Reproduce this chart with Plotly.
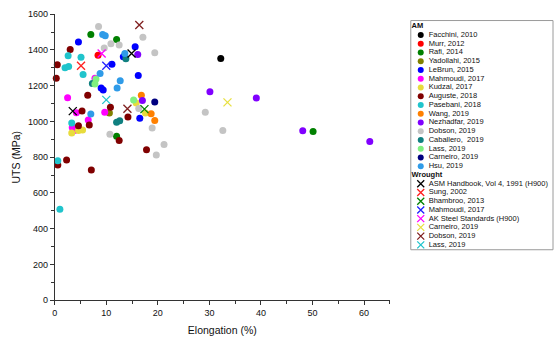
import plotly.graph_objects as go

# ---------------- data (Elongation %, UTS MPa) ----------------
am_names = ["Facchini, 2010", "Murr, 2012", "Rafi, 2014", "Yadollahi, 2015", "LeBrun, 2015",
            "Mahmoudi, 2017", "Kudzal, 2017", "Auguste, 2018", "Pasebani, 2018", "Wang, 2019",
            "Nezhadfar, 2019", "Dobson, 2019", "Caballero,  2019", "Lass, 2019", "Carneiro, 2019",
            "Hsu, 2019"]
am_colors = ["#000000", "#ff0000", "#008000", "#808000", "#0000ff", "#ff00ff", "#e8dc3c",
             "#800000", "#20c4cc", "#ff8000", "#8000ff", "#c4c4c4", "#108080", "#80f080",
             "#000080", "#2f9be8"]

facchini_e = [32.2];  facchini_u = [1353]
murr_e = [8.4];       murr_u = [1371]
rafi_e = [7.0, 12.0, 12.0, 50.1];  rafi_u = [1487, 1458, 917, 944]
yadollahi_e = [10.6]; yadollahi_u = [1047]
lebrun_e = [4.6, 15.6, 13.3, 11.1, 16.2, 9.0, 9.4, 16.5]
lebrun_u = [1444, 1418, 1362, 1320, 1257, 1188, 1176, 1018]
mahmoudi_e = [7.8, 2.5, 4.2, 9.7, 6.5, 3.4, 3.8]
mahmoudi_u = [1242, 1133, 1049, 1051, 1009, 966, 950]
kudzal_e = [15.8, 17.6, 3.3, 4.6, 5.4]
kudzal_u = [1103, 1047, 935, 949, 953]
auguste_e = [3.0, 0.5, 0.3, 6.4, 5.3, 10.8, 14.2, 4.6, 6.7, 12.5, 17.8, 2.3, 0.6, 7.1]
auguste_u = [1402, 1317, 1242, 1147, 1058, 1080, 1025, 976, 981, 893, 842, 784, 757, 728]
pasebani_e = [2.6, 5.1, 2.0, 2.7, 5.5, 3.3, 0.6, 1.0]
pasebani_u = [1368, 1359, 1301, 1308, 1263, 991, 781, 509]
wang_e = [16.8, 18.7, 19.4];  wang_u = [1147, 1043, 1005]
nezhadfar_e = [16.1, 17.0, 30.1, 39.1, 48.1, 61.1]
nezhadfar_u = [1375, 1118, 1167, 1132, 948, 888]
dobson_e = [8.5, 17.1, 10.9, 12.5, 9.6, 19.4, 16.3, 18.9, 10.7, 21.2, 19.7, 29.2, 32.6]
dobson_u = [1531, 1471, 1435, 1428, 1411, 1384, 1073, 964, 928, 871, 812, 1051, 949]
caballero_e = [13.8, 7.3, 12.0, 12.6];  caballero_u = [1351, 1212, 996, 1004]
lass_e = [8.0, 7.8, 15.3];  lass_u = [1237, 1210, 1120]
carneiro_e = [19.4];  carneiro_u = [1109]
hsu_e = [9.3, 9.8, 13.6, 8.8, 12.7, 12.1, 7.0]
hsu_u = [1487, 1480, 1380, 1268, 1228, 1188, 1042]

am_e = [facchini_e, murr_e, rafi_e, yadollahi_e, lebrun_e, mahmoudi_e, kudzal_e, auguste_e,
        pasebani_e, wang_e, nezhadfar_e, dobson_e, caballero_e, lass_e, carneiro_e, hsu_e]
am_u = [facchini_u, murr_u, rafi_u, yadollahi_u, lebrun_u, mahmoudi_u, kudzal_u, auguste_u,
        pasebani_u, wang_u, nezhadfar_u, dobson_u, caballero_u, lass_u, carneiro_u, hsu_u]

wr_names = ["ASM Handbook, Vol 4, 1991 (H900)", "Sung, 2002", "Bhambroo, 2013", "Mahmoudi, 2017",
            "AK Steel Standards (H900)", "Carneiro, 2019", "Dobson, 2019", "Lass, 2019"]
wr_colors = ["#000000", "#ff2020", "#008000", "#2020ff", "#ff00ff", "#e8e040", "#802020", "#20c4cc"]
asm_e = [14.9, 3.5];   asm_u = [1380, 1058]
sung_e = [5.1];        sung_u = [1312]
bhambroo_e = [17.4];   bhambroo_u = [1069]
mahw_e = [10.0];       mahw_u = [1312]
ak_e = [9.1];          ak_u = [1380]
carw_e = [33.5];       carw_u = [1107]
dobw_e = [16.4, 14.1]; dobw_u = [1540, 1071]
lassw_e = [10.0];      lassw_u = [1121]
wr_e = [asm_e, sung_e, bhambroo_e, mahw_e, ak_e, carw_e, dobw_e, lassw_e]
wr_u = [asm_u, sung_u, bhambroo_u, mahw_u, ak_u, carw_u, dobw_u, lassw_u]

FONT = "Liberation Sans, Arial, sans-serif"
AX = "#333333"

fig = go.Figure()
for n, c, xs, ys in zip(am_names, am_colors, am_e, am_u):
    fig.add_trace(go.Scatter(x=xs, y=ys, mode="markers", name=n, cliponaxis=False,
                             marker=dict(size=7, color=c, line=dict(width=0)),
                             showlegend=False))
for n, c, xs, ys in zip(wr_names, wr_colors, wr_e, wr_u):
    fig.add_trace(go.Scatter(x=xs, y=ys, mode="markers", name=n, cliponaxis=False,
                             marker=dict(size=8, color=c, symbol="x-thin-open",
                                         line=dict(width=1.3, color=c)),
                             showlegend=False))

# ---------------- custom legend panel (second axes) ----------------
am_rows = list(range(1, 1 + len(am_names)))
wr_title_row = 1 + len(am_names)
wr_rows = list(range(wr_title_row + 1, wr_title_row + 1 + len(wr_names)))

fig.add_trace(go.Scatter(x=[10] * len(am_rows), y=am_rows, mode="markers", xaxis="x2", yaxis="y2",
                         marker=dict(size=6, color=am_colors), showlegend=False, hoverinfo="skip"))
fig.add_trace(go.Scatter(x=[10] * len(wr_rows), y=wr_rows, mode="markers", xaxis="x2", yaxis="y2",
                         marker=dict(size=7, color=wr_colors, symbol="x-thin-open",
                                     line=dict(width=1.3, color=wr_colors)),
                         showlegend=False, hoverinfo="skip"))
fig.add_trace(go.Scatter(x=[18] * (len(am_rows) + len(wr_rows)), y=am_rows + wr_rows,
                         mode="text", text=am_names + wr_names, textposition="middle right",
                         xaxis="x2", yaxis="y2", marker=dict(size=1),
                         textfont=dict(family=FONT, size=7.5, color="#111111"),
                         showlegend=False, hoverinfo="skip"))
fig.add_trace(go.Scatter(x=[0.8, 0.8], y=[0, wr_title_row], mode="text",
                         text=["<b>AM</b>", "<b>Wrought</b>"], textposition="middle right",
                         xaxis="x2", yaxis="y2", marker=dict(size=1),
                         textfont=dict(family=FONT, size=7.5, color="#111111"),
                         showlegend=False, hoverinfo="skip"))

fig.update_layout(
    width=555, height=347,
    margin=dict(l=0, r=0, t=0, b=0),
    paper_bgcolor="white", plot_bgcolor="white",
    font=dict(family=FONT, color="#111111"),
    xaxis=dict(domain=[52 / 555, 389 / 555], range=[0, 65], dtick=10, tick0=0,
               showgrid=False, zeroline=False, showline=True, linecolor=AX, linewidth=1,
               ticks="outside", ticklen=4, tickwidth=1, tickcolor=AX,
               minor=dict(dtick=5, ticks="outside", ticklen=2.5, tickcolor=AX, showgrid=False),
               tickfont=dict(size=9, family=FONT, color="#111111"),
               title=dict(text="Elongation (%)", font=dict(size=10.5, family=FONT), standoff=9),
               anchor="y", fixedrange=True),
    yaxis=dict(domain=[43 / 347, 337.5 / 347], range=[0, 1600], dtick=200, tick0=0,
               showgrid=False, zeroline=False, showline=True, linecolor=AX, linewidth=1,
               ticks="outside", ticklen=4, tickwidth=1, tickcolor=AX,
               minor=dict(dtick=100, ticks="outside", ticklen=2.5, tickcolor=AX, showgrid=False),
               tickfont=dict(size=9, family=FONT, color="#111111"),
               title=dict(text="UTS (MPa)", font=dict(size=10.5, family=FONT), standoff=5),
               anchor="x", fixedrange=True),
    xaxis2=dict(domain=[410 / 555, 553 / 555], range=[0, 143], visible=False, anchor="y2",
                fixedrange=True),
    yaxis2=dict(domain=[(347 - 252) / 347, (347 - 16) / 347], range=[25.556, -0.667],
                visible=False, anchor="x2", fixedrange=True),
    shapes=[dict(type="rect", xref="x2 domain", yref="y2 domain", x0=0, x1=1, y0=0, y1=1,
                 line=dict(color="#9a9a9a", width=1), fillcolor="rgba(0,0,0,0)", layer="below")],
)

fig.write_html("out.html")
